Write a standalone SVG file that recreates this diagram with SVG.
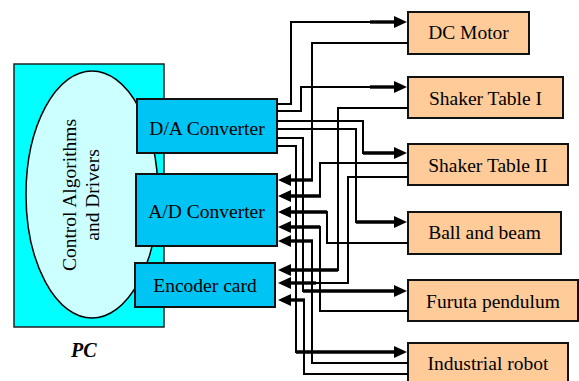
<svg xmlns="http://www.w3.org/2000/svg" width="579" height="381" viewBox="0 0 579 381">
<style>
text{font-family:"Liberation Serif","Times New Roman",serif;font-size:19.5px;fill:#000}
.c{text-anchor:middle}
.pc{fill:#00FFFF;stroke:#222;stroke-width:1.5}
.ell{fill:#CCFFFF;stroke:#000;stroke-width:1.5}
.conv{fill:#00C4F4;stroke:#111;stroke-width:2}
.dev{fill:#FFCC99;stroke:#111;stroke-width:2}
.w{fill:none;stroke:#000;stroke-width:2}
.a{fill:none;stroke:#000;stroke-width:3.4;marker-end:url(#ah)}
</style>
<defs>
<marker id="ah" markerWidth="14" markerHeight="12" refX="5" refY="6" orient="auto" markerUnits="userSpaceOnUse">
<path d="M0,0 L13,6 L0,12 z" fill="#000"/>
</marker>
</defs>
<g id="pc">
<rect class="pc" x="14" y="64" width="150" height="263"/>
<text x="71" y="357" style="font-weight:bold;font-style:italic;font-size:20px">PC</text>
</g>
<g id="control">
<ellipse class="ell" cx="92" cy="194.5" rx="66" ry="123.5"/>
<text class="c" transform="translate(76,195) rotate(-90)">Control Algorithms</text>
<text class="c" transform="translate(99,195) rotate(-90)">and Drivers</text>
</g>
<g id="da">
<rect class="conv" x="137" y="99" width="140" height="54"/>
<text class="c" x="207" y="135">D/A Converter</text>
</g>
<g id="ad">
<rect class="conv" x="136" y="174" width="141" height="72"/>
<text class="c" x="206.5" y="218">A/D Converter</text>
</g>
<g id="enc">
<rect class="conv" x="135" y="263" width="140" height="44"/>
<text class="c" x="205" y="292">Encoder card</text>
</g>
<g id="dcmotor">
<rect class="dev" x="408" y="12" width="121" height="42"/>
<text class="c" x="468.5" y="39">DC Motor</text>
</g>
<g id="shaker1">
<rect class="dev" x="408" y="77" width="155" height="41"/>
<text class="c" x="485.5" y="105">Shaker Table I</text>
</g>
<g id="shaker2">
<rect class="dev" x="408" y="144" width="160" height="41"/>
<text class="c" x="488" y="172">Shaker Table II</text>
</g>
<g id="ballbeam">
<rect class="dev" x="408" y="212" width="153" height="42"/>
<text class="c" x="484.5" y="239">Ball and beam</text>
</g>
<g id="furuta">
<rect class="dev" x="408" y="280" width="170" height="41"/>
<text class="c" x="493" y="308">Furuta pendulum</text>
</g>
<g id="robot">
<rect class="dev" x="408" y="343" width="160" height="50"/>
<text class="c" x="488" y="370">Industrial robot</text>
</g>
<g id="connectors">
<path class="w" d="M277,104 H291 V22 H399"/>
<path class="a" d="M370,22 H399"/>
<path class="w" d="M277,111 H301 V87 H399"/>
<path class="a" d="M370,87 H399"/>
<path class="w" d="M277,121 H363 V153 H399"/>
<path class="a" d="M363,153 H399"/>
<path class="w" d="M277,129 H356 V222 H399"/>
<path class="a" d="M356,222 H399"/>
<path class="w" d="M277,138 H303 V291 H399"/>
<path class="a" d="M303,291 H399"/>
<path class="w" d="M277,146 H296 V352 H399"/>
<path class="a" d="M296,352 H399"/>
<path class="w" d="M408,43 H312 V180 H286"/>
<path class="a" d="M313,180 H286"/>
<path class="w" d="M408,163 H320 V196 H286"/>
<path class="a" d="M321,196 H286"/>
<path class="w" d="M408,243 H327 V212 H286"/>
<path class="a" d="M327,212 H286"/>
<path class="w" d="M408,311 H320 V227 H286"/>
<path class="a" d="M320,227 H286"/>
<path class="w" d="M408,363 H312 V241 H286"/>
<path class="a" d="M313,241 H286"/>
<path class="w" d="M408,108 H338 V270 H286"/>
<path class="a" d="M338,270 H286"/>
<path class="w" d="M408,177 H348 V283 H286"/>
<path class="a" d="M316,283 H286"/>
<path class="w" d="M408,374 H304 V300 H286"/>
<path class="a" d="M305,300 H286"/>
</g>
</svg>
